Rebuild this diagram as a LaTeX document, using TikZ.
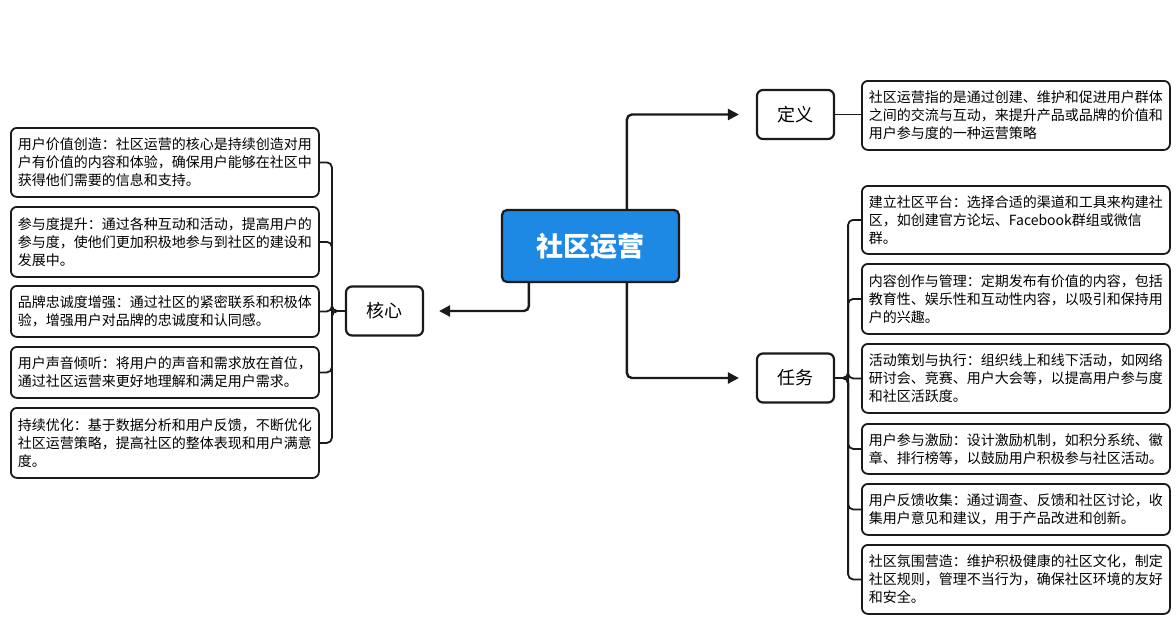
\documentclass[tikz,border=0pt]{standalone}
\usepackage{fontspec}
\setmainfont{Noto Sans CJK SC}
\usetikzlibrary{arrows.meta,calc}
\definecolor{rootblue}{RGB}{30,136,229}
\definecolor{ink}{RGB}{26,26,26}
\begin{document}
\begin{tikzpicture}[x=1pt,y=-1pt,
  rootbox/.style={draw=ink,line width=2.2pt,rounded corners=5pt,fill=rootblue,text=white,
    minimum width=177pt,minimum height=72pt,font=\fontsize{27}{30}\selectfont\bfseries},
  topicbox/.style={draw=ink,line width=2.2pt,rounded corners=6pt,fill=white,
    minimum width=77pt,minimum height=49pt,font=\fontsize{18}{22}\selectfont},
  leafbox/.style={draw=ink,line width=1.8pt,rounded corners=6pt,fill=white,
    text width=294pt,inner xsep=7pt,inner ysep=0pt,align=left,anchor=north west,
    font=\fontsize{14}{18}\selectfont},
  arrowline/.style={draw=ink,line width=2.4pt,rounded corners=5pt,-{Triangle[length=11pt,width=11pt]}},
  linkline/.style={draw=ink,line width=1.8pt,rounded corners=5pt}
]
\useasboundingbox (0,0) rectangle (1176,629);

% root
\node[rootbox] (root) at (590.5,246) {社区运营};

% topics
\node[topicbox] (hexin) at (384.5,311) {核心};
\node[topicbox] (dingyi) at (795.5,114.5) {定义};
\node[topicbox] (renwu) at (795.5,378) {任务};

% arrow end points
\coordinate (hexinin) at ($(hexin.east)+(15,0)$);
\coordinate (dingyiin) at ($(dingyi.west)+(-17,0)$);
\coordinate (renwuin) at ($(renwu.west)+(-17,0)$);

\draw[arrowline] ($(root.south west)+(28,0)$) |- (hexinin);
\draw[arrowline] ($(root.north west)+(126,0)$) |- (dingyiin);
\draw[arrowline] ($(root.south west)+(126,0)$) |- (renwuin);

% definition
\node[leafbox,minimum height=69pt] (def) at (861,80) {社区运营指的是通过创建、维护和促进用户群体\\之间的交流与互动，来提升产品或品牌的价值和\\用户参与度的一种运营策略};
\draw[draw=ink,line width=1.4pt] (dingyi.east) -- (dingyi.east -| def.west);

% left (核心) leaves
\node[leafbox,minimum height=69pt] (c1) at (10,127) {用户价值创造：社区运营的核心是持续创造对用\\户有价值的内容和体验，确保用户能够在社区中\\获得他们需要的信息和支持。};
\node[leafbox,minimum height=70pt] (c2) at (10,206) {参与度提升：通过各种互动和活动，提高用户的\\参与度，使他们更加积极地参与到社区的建设和\\发展中。};
\node[leafbox,minimum height=51pt] (c3) at (10,285) {品牌忠诚度增强：通过社区的紧密联系和积极体\\验，增强用户对品牌的忠诚度和认同感。};
\node[leafbox,minimum height=51pt] (c4) at (10,346) {用户声音倾听：将用户的声音和需求放在首位，\\通过社区运营来更好地理解和满足用户需求。};
\node[leafbox,minimum height=70pt] (c5) at (10,407) {持续优化：基于数据分析和用户反馈，不断优化\\社区运营策略，提高社区的整体表现和用户满意\\度。};

\foreach \c in {c1,c2,c3,c4,c5}
  \draw[linkline] (hexin.west) -- ++(-13,0) |- (\c.east);

% right (任务) leaves
\node[leafbox,minimum height=68pt] (t1) at (861,185) {建立社区平台：选择合适的渠道和工具来构建社\\区，如创建官方论坛、Facebook群组或微信\\群。};
\node[leafbox,minimum height=70pt] (t2) at (861,263) {内容创作与管理：定期发布有价值的内容，包括\\教育性、娱乐性和互动性内容，以吸引和保持用\\户的兴趣。};
\node[leafbox,minimum height=69pt] (t3) at (861,343) {活动策划与执行：组织线上和线下活动，如网络\\研讨会、竞赛、用户大会等，以提高用户参与度\\和社区活跃度。};
\node[leafbox,minimum height=50pt] (t4) at (861,423) {用户参与激励：设计激励机制，如积分系统、徽\\章、排行榜等，以鼓励用户积极参与社区活动。};
\node[leafbox,minimum height=51pt] (t5) at (861,483) {用户反馈收集：通过调查、反馈和社区讨论，收\\集用户意见和建议，用于产品改进和创新。};
\node[leafbox,minimum height=69pt] (t6) at (861,544) {社区氛围营造：维护积极健康的社区文化，制定\\社区规则，管理不当行为，确保社区环境的友好\\和安全。};

\foreach \t in {t1,t2,t3,t4,t5,t6}
  \draw[linkline] (renwu.east) -- ++(13,0) |- (\t.west);

\end{tikzpicture}
\end{document}
